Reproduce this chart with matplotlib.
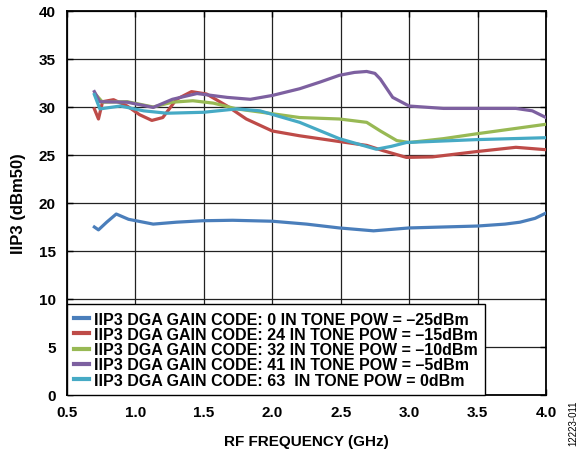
"""IIP3 vs RF frequency for five DGA gain codes (recreated chart)."""
import matplotlib
matplotlib.use("Agg")
import matplotlib.pyplot as plt

# values
freq_code0 = [0.70, 0.73, 0.79, 0.86, 0.95, 1.13, 1.30, 1.49, 1.71, 2.00, 2.25, 2.49, 2.74, 3.00, 3.25, 3.50, 3.70, 3.81, 3.92, 4.00]
iip3_code0 = [17.5, 17.2, 18.0, 18.85, 18.3, 17.8, 18.0, 18.15, 18.2, 18.1, 17.8, 17.4, 17.1, 17.4, 17.5, 17.6, 17.8, 18.0, 18.4, 18.95]

freq_code24 = [0.70, 0.73, 0.76, 0.84, 0.94, 1.03, 1.12, 1.20, 1.30, 1.41, 1.52, 1.67, 1.81, 2.00, 2.20, 2.49, 2.69, 2.81, 2.98, 3.17, 3.49, 3.78, 4.00]
iip3_code24 = [29.8, 28.75, 30.55, 30.76, 30.1, 29.2, 28.6, 28.9, 30.8, 31.6, 31.35, 30.1, 28.75, 27.5, 27.0, 26.4, 26.0, 25.45, 24.75, 24.8, 25.35, 25.8, 25.55]

freq_code32 = [0.71, 0.76, 0.94, 1.13, 1.27, 1.42, 1.57, 1.74, 2.00, 2.20, 2.49, 2.69, 2.79, 2.91, 3.00, 3.25, 3.49, 4.00]
iip3_code32 = [31.3, 30.5, 30.55, 30.0, 30.5, 30.65, 30.4, 29.8, 29.3, 28.9, 28.75, 28.4, 27.5, 26.5, 26.3, 26.7, 27.2, 28.2]

freq_code41 = [0.70, 0.74, 0.94, 1.13, 1.27, 1.45, 1.67, 1.84, 2.00, 2.20, 2.35, 2.49, 2.60, 2.69, 2.75, 2.79, 2.88, 3.00, 3.25, 3.78, 3.90, 4.00]
iip3_code41 = [31.6, 30.55, 30.5, 29.95, 30.8, 31.4, 31.0, 30.8, 31.2, 31.9, 32.6, 33.3, 33.6, 33.7, 33.5, 32.9, 31.0, 30.1, 29.85, 29.85, 29.6, 28.9]

freq_code63 = [0.70, 0.74, 0.89, 1.06, 1.23, 1.50, 1.74, 1.91, 2.20, 2.49, 2.76, 2.87, 2.98, 3.49, 4.00]
iip3_code63 = [31.3, 29.8, 30.1, 29.6, 29.35, 29.45, 29.8, 29.6, 28.4, 26.7, 25.6, 25.9, 26.3, 26.6, 26.8]

labels = [
    "IIP3 DGA GAIN CODE: 0 IN TONE POW = \u201325dBm",
    "IIP3 DGA GAIN CODE: 24 IN TONE POW = \u201315dBm",
    "IIP3 DGA GAIN CODE: 32 IN TONE POW = \u201310dBm",
    "IIP3 DGA GAIN CODE: 41 IN TONE POW = \u20135dBm",
    "IIP3 DGA GAIN CODE: 63  IN TONE POW = 0dBm",
]
colors = ["#4a7ebb", "#be4b48", "#98b954", "#7d60a0", "#46aac5"]

x_ticks = [0.5, 1.0, 1.5, 2.0, 2.5, 3.0, 3.5, 4.0]
y_ticks = [0, 5, 10, 15, 20, 25, 30, 35, 40]

plt.rcParams["font.family"] = ["Liberation Sans", "DejaVu Sans"]
plt.rcParams["font.weight"] = "bold"

fig = plt.figure(figsize=(5.84, 4.52), dpi=100)
ax = fig.add_axes([0.1147, 0.1239, 0.8202, 0.8496])

series = [(freq_code0, iip3_code0), (freq_code24, iip3_code24), (freq_code32, iip3_code32),
          (freq_code41, iip3_code41), (freq_code63, iip3_code63)]
for (fx, fy), lab, col in zip(series, labels, colors):
    ax.plot(fx, fy, color=col, lw=2.3, label=lab, solid_joinstyle="round", zorder=3)

ax.set_xlim(0.5, 4.0)
ax.set_ylim(0, 40)
ax.set_xticks(x_ticks)
ax.set_yticks(y_ticks)
ax.set_xticklabels([f"{v:.1f}" for v in x_ticks], fontsize=11, fontweight="bold")
ax.set_yticklabels([str(v) for v in y_ticks], fontsize=11, fontweight="bold")
ax.tick_params(direction="in", length=4, width=1, top=True, right=True)
ax.tick_params(axis="y", pad=8)
ax.tick_params(axis="x", pad=7)
ax.grid(True, color="#222222", lw=0.9)
for s in ax.spines.values():
    s.set_linewidth(1.3)

ax.set_xlabel("RF FREQUENCY (GHz)", fontsize=11, fontweight="bold", labelpad=11)
ax.set_ylabel("IIP3 (dBm50)", fontsize=12, fontweight="bold", labelpad=9)

leg = ax.legend(loc="lower left", borderaxespad=0, fontsize=11.5, handlelength=0.95,
                handletextpad=0.3, labelspacing=0.02, borderpad=0.45, fancybox=False,
                framealpha=1, edgecolor="black")
leg.get_frame().set_linewidth(1.0)
for t in leg.get_texts():
    t.set_fontweight("bold")
for h in leg.get_lines():
    h.set_linewidth(3)

fig.text(0.982, 0.115, "12223-011", rotation=90, fontsize=7, fontweight="normal",
         ha="center", va="top")

fig.savefig("out.png", dpi=100)
